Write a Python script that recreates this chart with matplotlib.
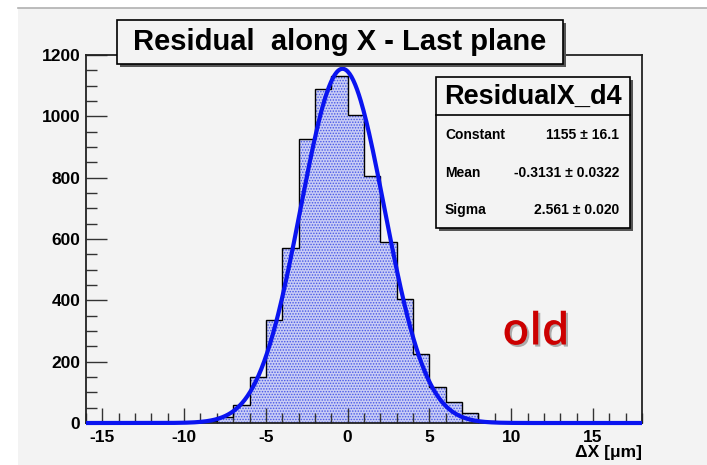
import numpy as np
import matplotlib
matplotlib.use("Agg")
import matplotlib.pyplot as plt
import matplotlib.patheffects as pe
from matplotlib.patches import Rectangle

# ---- data ----
bin_edges = [-10, -9, -8, -7, -6, -5, -4, -3, -2, -1, 0, 1, 2, 3, 4, 5, 6, 7, 8, 9, 10]
counts = [1, 6, 21, 58, 150, 337, 572, 926, 1088, 1131, 1004, 807, 590, 405, 224, 118, 67, 31, 8, 2]
fit_constant = 1155.0
fit_mean = -0.3131
fit_sigma = 2.561
stat_labels = ["Constant", "Mean", "Sigma"]
stat_values = ["1155 \u00b1 16.1", "-0.3131 \u00b1 0.0322", "2.561 \u00b1 0.020"]
x_ticks = [-15, -10, -5, 0, 5, 10, 15]
y_ticks = [0, 200, 400, 600, 800, 1000, 1200]
title = "Residual  along X - Last plane"
stats_title = "ResidualX_d4"
x_label = "\u0394X [\u03bcm]"

W, H = 707, 465
BG = "#f3f3f3"
plt.rcParams['font.family'] = ['Liberation Sans', 'DejaVu Sans']
plt.rcParams['hatch.linewidth'] = 0.7
plt.rcParams['axes.unicode_minus'] = False

fig = plt.figure(figsize=(W / 100, H / 100), dpi=100)
fig.patch.set_facecolor("white")


def fx(x):
    return x / W


def fy(y):
    return 1 - y / H


# canvas background panel
fig.patches.append(Rectangle((fx(18), 0), 1 - fx(18), fy(8), transform=fig.transFigure,
                             facecolor=BG, edgecolor="none", zorder=-2))
fig.lines.append(plt.Line2D([fx(18), 1], [fy(8), fy(8)], transform=fig.transFigure,
                            color="#b0b0b0", lw=1.2, zorder=-1))

ax = fig.add_axes([fx(86), fy(423), fx(642) - fx(86), fy(55) - fy(423)])
ax.set_zorder(1)
ax.set_facecolor(BG)

# histogram fill + outline
ax.stairs(counts, bin_edges, fill=True, facecolor="#c9cdf5", edgecolor="#4656e6",
          hatch="......", linewidth=0, zorder=1)
ax.stairs(counts, bin_edges, color="black", linewidth=1.0, zorder=2)

# fit curve
xs = np.linspace(-16, 18, 600)
ys = fit_constant * np.exp(-0.5 * ((xs - fit_mean) / fit_sigma) ** 2)
ax.plot(xs, ys, color="#0a14f0", lw=3, zorder=4, clip_on=False, solid_capstyle="butt")

ax.set_xlim(-16, 18)
ax.set_ylim(0, 1200)
ax.set_xticks(x_ticks)
ax.set_xticks(np.arange(-16, 19, 1), minor=True)
ax.set_yticks(y_ticks)
ax.set_yticks(np.arange(0, 1201, 50), minor=True)
ax.tick_params(axis="both", which="both", direction="in", color="#333333", width=1)
ax.tick_params(axis="x", which="major", length=11, pad=5)
ax.tick_params(axis="x", which="minor", length=7)
ax.tick_params(axis="y", which="major", length=15, pad=4)
ax.tick_params(axis="y", which="minor", length=8)
for lab in ax.get_xticklabels() + ax.get_yticklabels():
    lab.set_fontweight("bold")
    lab.set_fontsize(12.5)
for sp in ax.spines.values():
    sp.set_linewidth(1.3)
    sp.set_color("#222222")


def box(x0, y0, x1, y1, shadow=3):
    fig.patches.append(Rectangle((fx(x0 + shadow), fy(y1 + shadow)), fx(x1 - x0), fy(y0) - fy(y1),
                                 transform=fig.transFigure, facecolor="#555555",
                                 edgecolor="none", zorder=5))
    fig.patches.append(Rectangle((fx(x0), fy(y1)), fx(x1 - x0), fy(y0) - fy(y1),
                                 transform=fig.transFigure, facecolor=BG,
                                 edgecolor="black", lw=1.2, zorder=6))


# title box
box(117, 20, 563, 64)
fig.text(fx(340), fy(42), title, ha="center", va="center", fontsize=21,
         fontweight="bold", zorder=7)

# stats box
box(436, 77, 630, 228)
fig.lines.append(plt.Line2D([fx(436), fx(630)], [fy(115), fy(115)], transform=fig.transFigure,
                            color="black", lw=1.2, zorder=7))
fig.text(fx(533), fy(97), stats_title, ha="center", va="center", fontsize=19.5,
         fontweight="bold", zorder=7)
row_y = [135, 173, 210]
for lab, val, yy in zip(stat_labels, stat_values, row_y):
    fig.text(fx(445), fy(yy), lab, ha="left", va="center", fontsize=10,
             fontweight="bold", zorder=7)
    fig.text(fx(619), fy(yy), val, ha="right", va="center", fontsize=10,
             fontweight="bold", zorder=7)

# "old" annotation with shadow
fig.text(fx(536), fy(333), "old", ha="center", va="center", fontsize=32,
         family=["Open Sans", "DejaVu Sans"], fontweight=600, color="#cc0000", zorder=8,
         path_effects=[pe.SimplePatchShadow(offset=(1.5, -1.5), shadow_rgbFace="#9a9a9a", alpha=0.8),
                       pe.Normal()])

# x label
fig.text(fx(642), fy(452), x_label, ha="right", va="center", fontsize=12.5,
         fontweight="bold")

fig.savefig("out.png", dpi=100, facecolor=fig.get_facecolor())
